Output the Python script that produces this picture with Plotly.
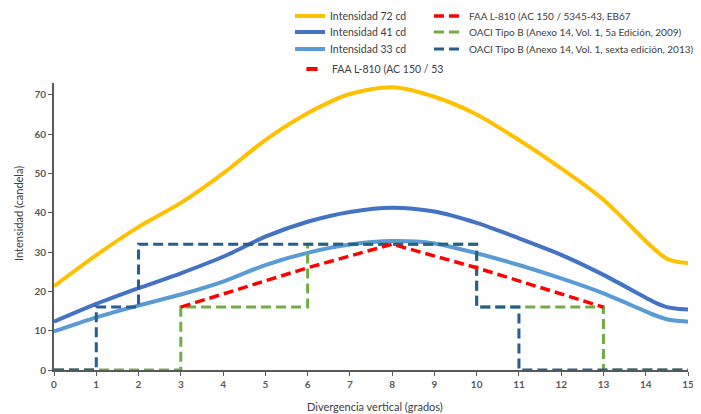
import plotly.graph_objects as go

x_curve = [0, 1, 2, 3, 4, 5, 6, 7, 8, 9, 10, 11, 12, 13, 14, 14.25, 14.5, 14.75, 15]
i72 = [21.3, 29.2, 36.4, 42.5, 50.0, 58.5, 65.3, 70.2, 71.9, 69.5, 65.0, 58.5, 51.3, 43.3, 32.8, 30.3, 28.3, 27.5, 27.2]
i41 = [12.3, 16.8, 20.8, 24.6, 28.8, 33.9, 37.7, 40.2, 41.3, 40.3, 37.4, 33.5, 29.3, 24.2, 18.4, 17.0, 16.0, 15.6, 15.4]
i33 = [9.8, 13.4, 16.4, 19.2, 22.5, 26.7, 29.8, 31.9, 32.8, 32.2, 29.7, 26.7, 23.3, 19.5, 14.9, 13.8, 12.9, 12.5, 12.3]

faa_x = [3, 6, 8, 10, 13]
faa_y = [16, 26, 32, 26, 16]

oaci09_x = [0, 3, 3, 6, 6, 10, 10, 13, 13, 15]
oaci09_y = [0, 0, 16, 16, 32, 32, 16, 16, 0, 0]

oaci13_x = [0, 1, 1, 2, 2, 10, 10, 11, 11, 15]
oaci13_y = [0, 0, 16, 16, 32, 32, 16, 16, 0, 0]

x_ticks = list(range(0, 16))
y_ticks = [0, 10, 20, 30, 40, 50, 60, 70]

x_title = "Divergencia vertical (grados)"
y_title = "Intensidad (candela)"

YELLOW = "#FFC000"
BLUE = "#4472C4"
LBLUE = "#5B9BD5"
RED = "#FF0000"
GREEN = "#70AD47"
DBLUE = "#255E91"
FONT = "Lato"
TXT = "#404040"

# the page body has an 8px margin, so the figure starts at (8, 8) of the window
OFF = 8
W, H = 701 - OFF, 414 - OFF
ML, MR, MT, MB = 54 - OFF, 13, 83 - OFF, 44
PW = W - ML - MR
PH = H - MT - MB


def px_to_paper(px, py):
    return (px - OFF - ML) / PW, 1 - (py - OFF - MT) / PH


fig = go.Figure()


def leg_pos(text_x, row_y, size):
    # window pixel positions -> legend position (text starts ~41px after legend x)
    tx = text_x - OFF
    ty = row_y - OFF
    return dict(x=(tx - 41 - ML) / PW, xanchor="left", y=1 - ty / H, yanchor="middle",
                yref="container", bgcolor="rgba(0,0,0,0)",
                font=dict(family=FONT, size=size, color=TXT), itemwidth=30)


spline = dict(shape="spline", smoothing=0.8)
fig.add_trace(go.Scatter(x=x_curve, y=i72, mode="lines", name="Intensidad 72 cd",
                         line=dict(color=YELLOW, width=4, **spline), legend="legend"))
fig.add_trace(go.Scatter(x=x_curve, y=i41, mode="lines", name="Intensidad 41 cd",
                         line=dict(color=BLUE, width=4, **spline), legend="legend2"))
fig.add_trace(go.Scatter(x=x_curve, y=i33, mode="lines", name="Intensidad 33 cd",
                         line=dict(color=LBLUE, width=4, **spline), legend="legend3"))
fig.add_trace(go.Scatter(x=[None], y=[None], mode="markers", name="FAA L-810 (AC 150 / 53",
                         marker=dict(symbol="line-ew", size=8, line=dict(color=RED, width=4)),
                         legend="legend4"))
fig.add_trace(go.Scatter(x=oaci09_x, y=oaci09_y, mode="lines",
                         name="OACI Tipo B (Anexo 14, Vol. 1, 5a Edición, 2009)",
                         line=dict(color=GREEN, width=3, dash="10px,5px"), legend="legend6"))
fig.add_trace(go.Scatter(x=oaci13_x, y=oaci13_y, mode="lines",
                         name="OACI Tipo B (Anexo 14, Vol. 1, sexta edición, 2013)",
                         line=dict(color=DBLUE, width=3, dash="10px,5px"), legend="legend7"))
fig.add_trace(go.Scatter(x=faa_x, y=faa_y, mode="lines",
                         name="FAA L-810 (AC 150 / 5345-43, EB67",
                         line=dict(color=RED, width=3.5, dash="10px,5px"), legend="legend5"))

axis_common = dict(showgrid=False, zeroline=False, showline=True, linecolor="#595959",
                   linewidth=2, ticks="outside", tickcolor="#595959", ticklen=4,
                   automargin=False,
                   tickfont=dict(family=FONT, size=10, color="#595959", weight="bold"))

xt_x, xt_y = px_to_paper(375, 406)
yt_x, yt_y = px_to_paper(18, 214)

fig.update_layout(
    width=W, height=H,
    margin=dict(l=ML, r=MR, t=MT, b=MB, autoexpand=False),
    paper_bgcolor="white", plot_bgcolor="white",
    font=dict(family=FONT, size=10, color=TXT),
    xaxis=dict(range=[0, 15], tickvals=x_ticks, **axis_common),
    yaxis=dict(range=[0, 73], tickvals=y_ticks, **axis_common),
    annotations=[
        dict(text=x_title, x=xt_x, y=xt_y, xref="paper", yref="paper", showarrow=False,
             xanchor="center", yanchor="middle", font=dict(family=FONT, size=11, color=TXT)),
        dict(text=y_title, x=yt_x, y=yt_y, xref="paper", yref="paper", showarrow=False,
             textangle=-90, xanchor="center", yanchor="middle",
             font=dict(family=FONT, size=11, color=TXT)),
    ],
    legend=leg_pos(331, 16, 10.5),
    legend2=leg_pos(331, 32, 10.5),
    legend3=leg_pos(331, 49, 10.5),
    legend4=leg_pos(333, 69, 10.5),
    legend5=leg_pos(470, 16, 10),
    legend6=leg_pos(470, 32, 10),
    legend7=leg_pos(470, 49, 10),
    showlegend=True,
)

fig.write_html("out.html")
